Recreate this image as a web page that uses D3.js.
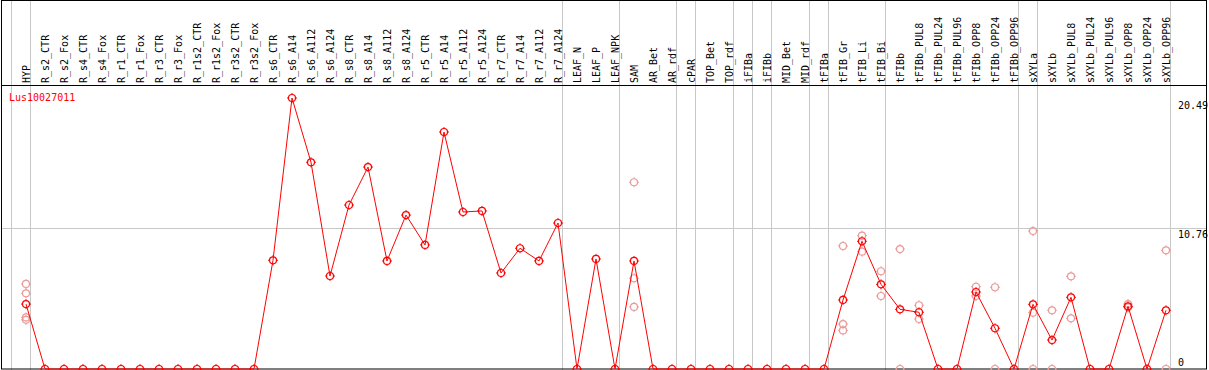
<!DOCTYPE html>
<html>
<head>
<meta charset="utf-8">
<script src="https://cdnjs.cloudflare.com/ajax/libs/d3/7.8.5/d3.min.js"></script>
<style>
body { margin: 0; background: #fff; }
text { font-family: "DejaVu Sans Mono", monospace; font-size: 10px; }
</style>
</head>
<body>
<script>
var w = 1209;
var h = 370;

var gene = "Lus10027011";

var categories = ["HYP",
    "R_s2_CTR", "R_s2_Fox", "R_s4_CTR", "R_s4_Fox", "R_r1_CTR", "R_r1_Fox", "R_r3_CTR", "R_r3_Fox",
    "R_r1s2_CTR", "R_r1s2_Fox", "R_r3s2_CTR", "R_r3s2_Fox",
    "R_s6_CTR", "R_s6_A14", "R_s6_A112", "R_s6_A124", "R_s8_CTR", "R_s8_A14", "R_s8_A112", "R_s8_A124",
    "R_r5_CTR", "R_r5_A14", "R_r5_A112", "R_r5_A124", "R_r7_CTR", "R_r7_A14", "R_r7_A112", "R_r7_A124",
    "LEAF_N", "LEAF_P", "LEAF_NPK",
    "SAM", "AR_Bet", "AR_rdf",
    "cPAR",
    "TOP_Bet", "TOP_rdf",
    "iFIBa",
    "iFIBb",
    "MID_Bet", "MID_rdf",
    "tFIBa",
    "tFIB_Gr", "tFIB_Li", "tFIB_Bi",
    "tFIBb", "tFIBb_PUL8", "tFIBb_PUL24", "tFIBb_PUL96", "tFIBb_OPP8", "tFIBb_OPP24", "tFIBb_OPP96",
    "sXYLa",
    "sXYLb", "sXYLb_PUL8", "sXYLb_PUL24", "sXYLb_PUL96", "sXYLb_OPP8", "sXYLb_OPP24", "sXYLb_OPP96"];

// number of columns in each separated group
var groupSizes = [1, 28, 3, 3, 1, 2, 1, 1, 2, 1, 3, 7, 1, 7];

// mean expression per column
var means = [4.91,
    0, 0, 0, 0, 0, 0, 0, 0, 0, 0, 0, 0,
    8.22, 20.49, 15.63, 7.03, 12.40, 15.27, 8.17, 11.64,
    9.38, 17.92, 11.87, 11.95, 7.26, 9.13, 8.17, 11.04,
    0, 8.32, 0,
    8.17, 0, 0,
    0,
    0, 0,
    0,
    0,
    0, 0,
    0,
    5.22, 9.66, 6.40,
    4.51, 4.29, 0, 0, 5.82, 3.08, 0,
    4.89,
    2.19, 5.42, 0, 0, 4.74, 0, 4.44];

// replicate values that show apart from the mean
var replicates = [[6.43, 5.72, 3.90, 3.72],
    [], [], [], [], [], [], [], [], [], [], [], [],
    [], [], [], [], [], [], [], [],
    [], [], [], [], [], [], [], [],
    [], [], [],
    [14.12, 6.86, 4.69], [], [],
    [],
    [], [],
    [],
    [],
    [], [],
    [],
    [9.30, 3.40, 2.92], [10.08, 8.87], [7.39, 5.52],
    [9.07, 0], [4.82, 3.78], [], [], [6.22, 5.52], [6.18, 0], [],
    [10.43, 4.26, 0],
    [4.44, 0], [7.01, 3.83], [], [], [4.91, 4.66], [], [8.97, 0]];

var yTicks = [20.49, 10.76, 0];

var svg = d3.select("body")
    .append("svg")
    .attr("width", w)
    .attr("height", h);

var x = d3.scalePoint()
    .domain(categories)
    .range([26, 1166]);

var y = d3.scaleLinear()
    .domain([0, 20.49])
    .range([369, 98]);

// group separators
var bounds = [0];
groupSizes.forEach(function(s) { bounds.push(bounds[bounds.length - 1] + s); });

function sepX(d) {
    return d < categories.length ? x(categories[d]) - 14.5 : x(categories[d - 1]) + 4.5;
}

svg.selectAll("line.sep")
    .data(bounds)
    .enter()
    .append("line")
    .attr("class", "sep")
    .attr("x1", sepX)
    .attr("x2", sepX)
    .attr("y1", 0)
    .attr("y2", h)
    .attr("stroke", "#c8c8c8")
    .attr("stroke-width", 1);

// horizontal grid at middle tick
svg.append("line")
    .attr("x1", 1)
    .attr("x2", 1207)
    .attr("y1", Math.round(y(yTicks[1])) + 1.5)
    .attr("y2", Math.round(y(yTicks[1])) + 1.5)
    .attr("stroke", "#c8c8c8");

// frame and header line
svg.append("rect")
    .attr("x", 1.5)
    .attr("y", 0.5)
    .attr("width", 1205)
    .attr("height", 368.5)
    .attr("fill", "none")
    .attr("stroke", "black");

svg.append("line")
    .attr("x1", 1)
    .attr("x2", 1207)
    .attr("y1", 85.5)
    .attr("y2", 85.5)
    .attr("stroke", "black");

// column labels
svg.selectAll("text.col")
    .data(categories)
    .enter()
    .append("text")
    .attr("class", "col")
    .attr("transform", function(d) {
        return "translate(" + (x(d) + 4) + ",83) rotate(-90)";
    })
    .attr("fill", "black")
    .text(function(d) { return d; });

// right value labels
svg.selectAll("text.ytick")
    .data(yTicks)
    .enter()
    .append("text")
    .attr("class", "ytick")
    .attr("x", 1178)
    .attr("y", function(d) { return d === 0 ? y(d) - 3 : y(d) + 11; })
    .attr("fill", "black")
    .text(function(d) { return d; });

svg.append("text")
    .attr("x", 9)
    .attr("y", 101)
    .attr("fill", "red")
    .text(gene);

function marker(g, color) {
    g.append("circle")
        .attr("r", 3.5)
        .attr("fill", "none")
        .attr("stroke", color)
        .attr("stroke-width", 1.2);
    [[0, -3.5, 0, -5], [0, 3.5, 0, 5], [-3.5, 0, -5, 0], [3.5, 0, 5, 0]].forEach(function(t) {
        g.append("line")
            .attr("x1", t[0]).attr("y1", t[1])
            .attr("x2", t[2]).attr("y2", t[3])
            .attr("stroke", color);
    });
}

// replicates
var repPoints = [];
replicates.forEach(function(r, i) {
    r.forEach(function(v) { repPoints.push({ c: categories[i], v: v }); });
});

svg.selectAll("g.rep")
    .data(repPoints)
    .enter()
    .append("g")
    .attr("class", "rep")
    .attr("transform", function(d) {
        return "translate(" + x(d.c) + "," + y(d.v) + ")";
    })
    .each(function() { marker(d3.select(this), "#eb9a9a"); });

// mean line
var line = d3.line()
    .x(function(d, i) { return x(categories[i]); })
    .y(function(d) { return y(d); });

svg.append("path")
    .datum(means)
    .attr("d", line)
    .attr("fill", "none")
    .attr("stroke", "red")
    .attr("stroke-width", 1);

svg.selectAll("g.mean")
    .data(means)
    .enter()
    .append("g")
    .attr("class", "mean")
    .attr("transform", function(d, i) {
        return "translate(" + x(categories[i]) + "," + y(d) + ")";
    })
    .each(function() { marker(d3.select(this), "red"); });
</script>
</body>
</html>
